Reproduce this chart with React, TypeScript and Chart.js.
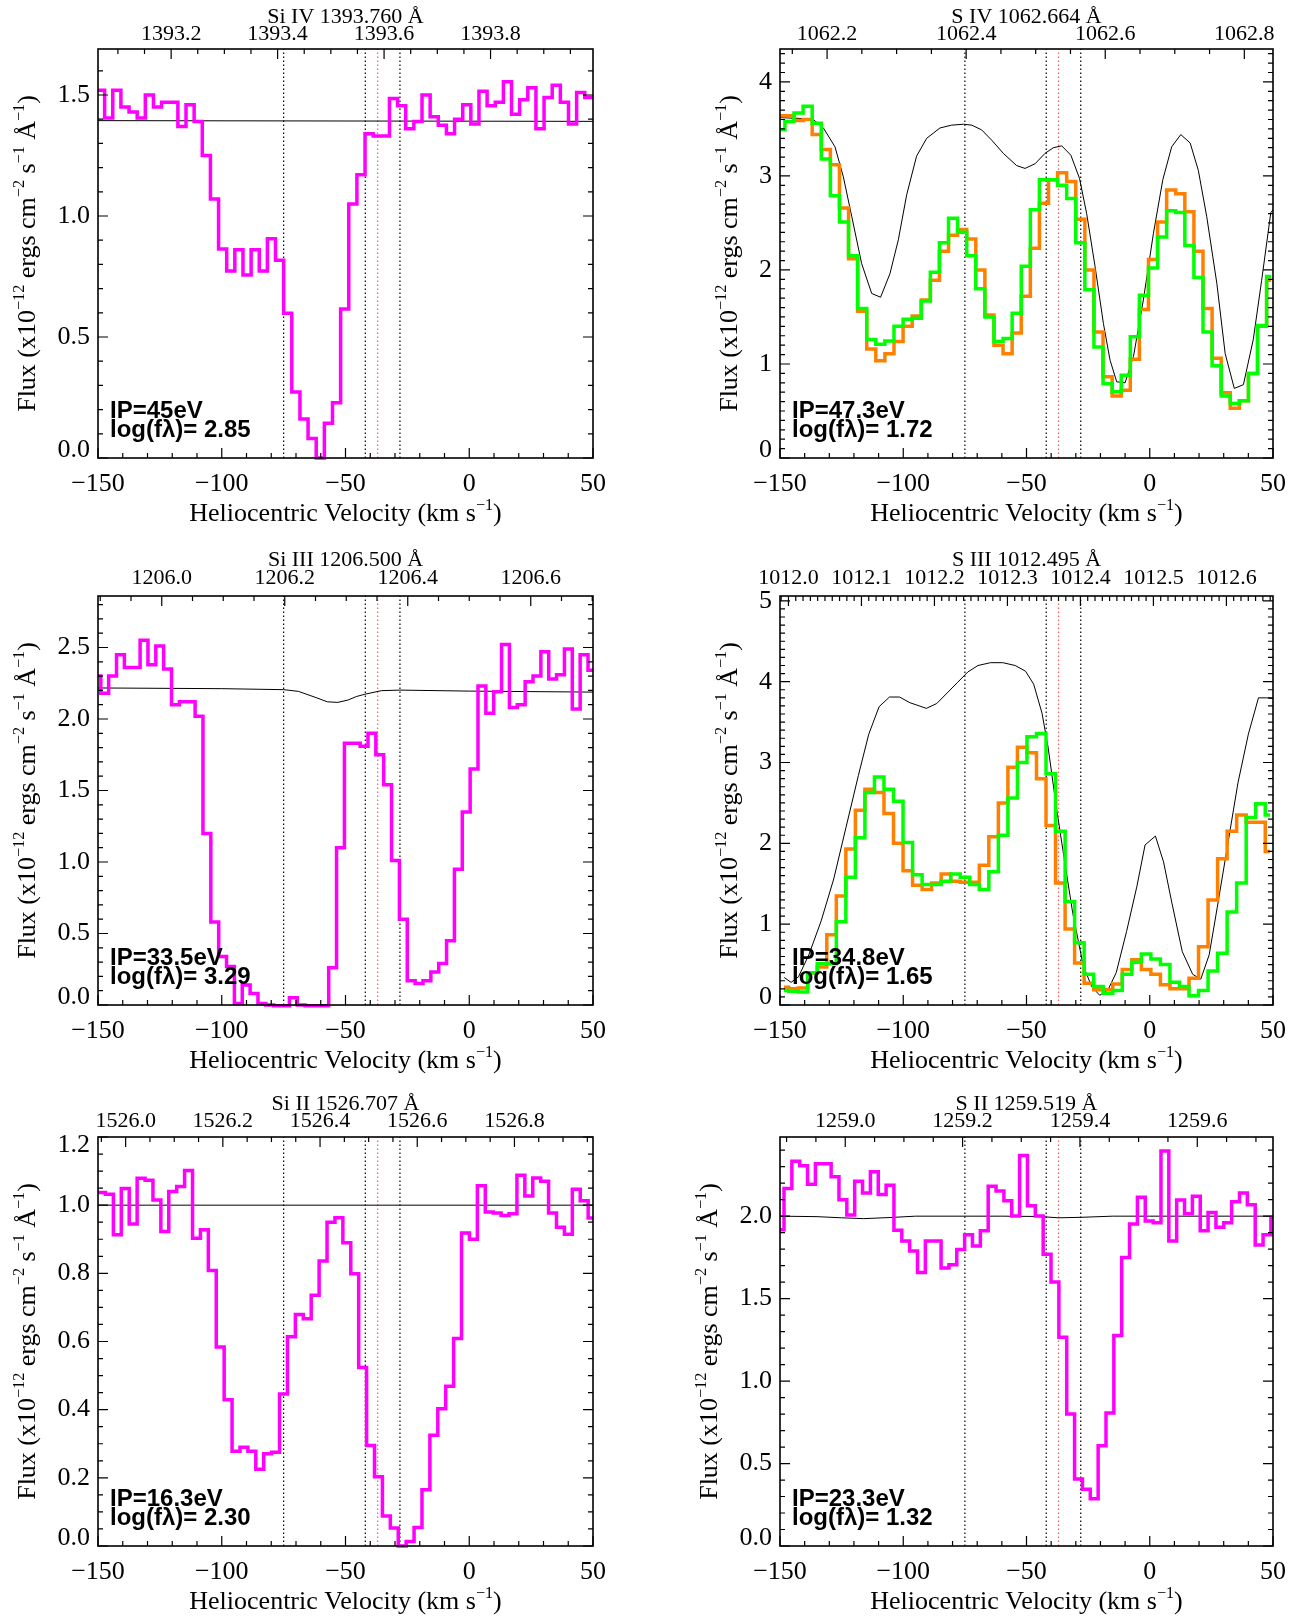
import React, { useEffect, useRef } from "react";
import { Chart, registerables } from "chart.js";

Chart.register(...registerables);

const LIGHT_SPEED = 299792.458;
const VEL_MIN = -150;
const VEL_MAX = 50;
const VEL_TICKS = [-150, -100, -50, 0, 50];
const VEL_MINOR = 10;
const MARK_BLACK = [-75, -42, -28];
const MARK_RED = [-37];

const MAGENTA = "#ff00ff";
const GREEN = "#00ff00";
const ORANGE = "#ff8000";
const FONT_SERIF = '"Liberation Serif", "Times New Roman", serif';
const FONT_SANS = '"Liberation Sans", Arial, sans-serif';

// ---------------- Si IV 1393.760 ----------------
const siIV_vel = [-152.25, -148.96, -145.68, -142.39, -139.10, -135.81, -132.52, -129.24, -125.95, -122.66, -119.37, -116.08, -112.80, -109.51, -106.22, -102.93, -99.64, -96.36, -93.07, -89.78, -86.49, -83.20, -79.92, -76.63, -73.34, -70.05, -66.76, -63.48, -60.19, -56.90, -53.61, -50.32, -47.04, -43.75, -40.46, -37.17, -33.88, -30.60, -27.31, -24.02, -20.73, -17.44, -14.16, -10.87, -7.58, -4.29, -1.00, 2.28, 5.57, 8.86, 12.15, 15.44, 18.72, 22.01, 25.30, 28.59, 31.88, 35.16, 38.45, 41.74, 45.03, 48.32, 51.61];
const siIV_flux = [1.52, 1.52, 1.405, 1.52, 1.45, 1.43, 1.405, 1.50, 1.45, 1.47, 1.47, 1.37, 1.46, 1.39, 1.25, 1.07, 0.864, 0.773, 0.86, 0.756, 0.86, 0.773, 0.906, 0.817, 0.598, 0.273, 0.161, 0.081, 0.0, 0.144, 0.228, 0.616, 1.05, 1.17, 1.34, 1.33, 1.33, 1.485, 1.455, 1.36, 1.39, 1.50, 1.41, 1.375, 1.34, 1.40, 1.46, 1.38, 1.515, 1.455, 1.47, 1.555, 1.42, 1.48, 1.53, 1.36, 1.49, 1.54, 1.47, 1.38, 1.51, 1.49, 1.49];
const siIV_contVel = [-150, 50];
const siIV_contFlux = [1.394, 1.391];
const siIV_waveTicks = [1393.2, 1393.4, 1393.6, 1393.8];
const siIV_yTicks = [0, 0.5, 1.0, 1.5];

// ---------------- S IV 1062.664 ----------------
const sIV_vel = [-149.84, -146.16, -142.47, -138.78, -135.10, -131.41, -127.72, -124.03, -120.35, -116.66, -112.97, -109.29, -105.60, -101.91, -98.22, -94.54, -90.85, -87.16, -83.48, -79.79, -76.10, -72.41, -68.73, -65.04, -61.35, -57.67, -53.98, -50.29, -46.60, -42.92, -39.23, -35.54, -31.86, -28.17, -24.48, -20.79, -17.11, -13.42, -9.73, -6.05, -2.36, 1.33, 5.02, 8.70, 12.39, 16.08, 19.76, 23.45, 27.14, 30.83, 34.51, 38.20, 41.89, 45.57, 49.26];
const sIV_green = [3.49, 3.58, 3.67, 3.74, 3.56, 3.18, 2.79, 2.51, 2.15, 1.59, 1.26, 1.21, 1.245, 1.40, 1.475, 1.486, 1.67, 1.975, 2.29, 2.55, 2.40, 2.15, 1.80, 1.50, 1.24, 1.27, 1.54, 2.04, 2.64, 2.96, 2.96, 2.90, 2.76, 2.29, 1.79, 1.18, 0.79, 0.705, 0.88, 1.29, 1.73, 2.02, 2.35, 2.63, 2.61, 2.26, 1.92, 1.34, 0.98, 0.66, 0.58, 0.61, 0.90, 1.41, 1.93];
const sIV_orange = [3.64, 3.64, 3.59, 3.60, 3.44, 3.28, 3.12, 2.66, 2.12, 1.56, 1.16, 1.035, 1.11, 1.24, 1.40, 1.51, 1.68, 1.89, 2.20, 2.37, 2.43, 2.33, 2.00, 1.52, 1.20, 1.11, 1.33, 1.72, 2.23, 2.71, 2.96, 3.035, 2.94, 2.54, 2.00, 1.34, 0.865, 0.66, 0.72, 1.05, 1.58, 2.11, 2.51, 2.85, 2.81, 2.62, 2.20, 1.59, 1.06, 0.695, 0.53, 0.61, 0.90, 1.40, 1.89];
const sIV_contVel = [-150, -140.5, -136.5, -132.4, -127.7, -124.3, -120.9, -116.9, -112.8, -109.2, -105.4, -102.0, -98.6, -94.6, -90.5, -85.1, -80.4, -75.6, -72.2, -68.2, -64.1, -59.4, -54.0, -50.6, -46.5, -42.5, -39.1, -35.7, -32.0, -28.5, -25.6, -22.2, -18.8, -16.1, -13.4, -10.0, -6.6, -2.6, 1.5, 5.3, 8.9, 12.6, 16.4, 19.7, 23.1, 27.2, 30.6, 34.3, 38.0, 42.0, 45.4, 49.1, 50];
const sIV_contFlux = [3.62, 3.61, 3.60, 3.51, 3.31, 2.99, 2.57, 2.07, 1.75, 1.71, 1.96, 2.32, 2.80, 3.21, 3.40, 3.51, 3.54, 3.55, 3.54, 3.49, 3.38, 3.24, 3.11, 3.08, 3.13, 3.24, 3.30, 3.32, 3.22, 2.975, 2.60, 2.04, 1.43, 1.04, 0.81, 0.80, 1.08, 1.68, 2.39, 2.96, 3.31, 3.44, 3.35, 3.06, 2.57, 1.86, 1.11, 0.74, 0.78, 1.26, 1.89, 2.61, 2.64];
const sIV_waveTicks = [1062.2, 1062.4, 1062.6, 1062.8];
const sIV_yTicks = [0, 1, 2, 3, 4];

// ---------------- Si III 1206.500 ----------------
const siIII_vel = [-150.45, -147.28, -144.10, -140.93, -137.75, -134.58, -131.40, -128.23, -125.05, -121.88, -118.70, -115.53, -112.35, -109.18, -106.00, -102.83, -99.65, -96.48, -93.30, -90.13, -86.95, -83.78, -80.60, -77.43, -74.25, -71.08, -67.90, -64.73, -61.55, -58.38, -55.20, -52.03, -48.85, -45.68, -42.50, -39.33, -36.15, -32.98, -29.80, -26.63, -23.45, -20.28, -17.10, -13.93, -10.75, -7.58, -4.40, -1.23, 1.95, 5.12, 8.30, 11.47, 14.65, 17.82, 21.00, 24.17, 27.35, 30.52, 33.70, 36.87, 40.05, 43.22, 46.40, 49.57, 52.75];
const siIII_flux = [2.30, 2.18, 2.30, 2.45, 2.36, 2.36, 2.55, 2.38, 2.51, 2.35, 2.10, 2.12, 2.12, 2.02, 1.20, 0.58, 0.34, 0.27, 0.01, 0.14, 0.08, 0.01, 0.0, -0.005, -0.005, 0.05, 0.0, -0.005, -0.005, -0.005, 0.26, 1.10, 1.83, 1.83, 1.81, 1.90, 1.75, 1.54, 1.01, 0.60, 0.17, 0.15, 0.17, 0.23, 0.29, 0.45, 0.95, 1.35, 1.65, 2.23, 2.04, 2.19, 2.52, 2.08, 2.10, 2.26, 2.30, 2.47, 2.28, 2.31, 2.49, 2.07, 2.45, 2.34, 2.34];
const siIII_contVel = [-150, -100, -75, -69, -62.3, -57.3, -53.1, -48.9, -45.6, -42.2, -35.5, -28, 0, 50];
const siIII_contFlux = [2.217, 2.212, 2.205, 2.193, 2.152, 2.12, 2.116, 2.133, 2.157, 2.173, 2.198, 2.202, 2.195, 2.188];
const siIII_waveTicks = [1206.0, 1206.2, 1206.4, 1206.6];
const siIII_yTicks = [0, 0.5, 1.0, 1.5, 2.0, 2.5];

// ---------------- S III 1012.495 ----------------
const sIII_vel = [-148.42, -144.55, -140.68, -136.82, -132.95, -129.08, -125.22, -121.35, -117.48, -113.62, -109.75, -105.88, -102.02, -98.15, -94.28, -90.41, -86.55, -82.68, -78.81, -74.95, -71.08, -67.21, -63.35, -59.48, -55.61, -51.75, -47.88, -44.01, -40.15, -36.28, -32.41, -28.55, -24.68, -20.81, -16.95, -13.08, -9.21, -5.34, -1.48, 2.39, 6.26, 10.12, 13.99, 17.86, 21.72, 25.59, 29.46, 33.32, 37.19, 41.06, 44.92, 48.79];
const sIII_green = [0.18, 0.17, 0.16, 0.40, 0.51, 0.51, 1.03, 1.58, 2.07, 2.63, 2.82, 2.67, 2.52, 2.01, 1.61, 1.49, 1.49, 1.53, 1.62, 1.58, 1.49, 1.43, 1.65, 2.10, 2.56, 3.00, 3.32, 3.36, 2.86, 2.15, 1.28, 0.77, 0.38, 0.23, 0.145, 0.18, 0.38, 0.53, 0.63, 0.57, 0.50, 0.28, 0.23, 0.115, 0.18, 0.42, 0.64, 1.15, 1.51, 2.32, 2.49, 2.35];
const sIII_orange = [0.22, 0.20, 0.21, 0.40, 0.47, 0.87, 1.35, 1.93, 2.41, 2.67, 2.63, 2.37, 2.00, 1.66, 1.48, 1.43, 1.51, 1.62, 1.53, 1.52, 1.52, 1.73, 2.08, 2.50, 2.94, 3.19, 3.12, 2.80, 2.22, 1.51, 0.94, 0.52, 0.27, 0.19, 0.19, 0.26, 0.44, 0.56, 0.44, 0.38, 0.25, 0.20, 0.20, 0.33, 0.72, 1.30, 1.81, 2.15, 2.35, 2.26, 2.26, 1.90];
const sIII_contVel = [-148.3, -145.5, -142.5, -138.3, -133.3, -128.2, -123.2, -118.2, -114.0, -109.8, -105.6, -101.5, -97.3, -90.6, -86.4, -82.2, -78.0, -73.8, -69.7, -64.6, -59.6, -54.6, -50.4, -47.1, -43.7, -41.2, -37.9, -34.5, -31.2, -27.0, -23.6, -20.3, -16.9, -13.6, -9.4, -5.2, -1.9, 2.3, 5.6, 9.0, 13.2, 17.4, 20.7, 24.1, 27.4, 31.6, 35.8, 40.0, 44.1, 47.5, 50];
const sIII_contFlux = [0.34, 0.28, 0.35, 0.62, 1.04, 1.56, 2.20, 2.84, 3.35, 3.69, 3.81, 3.81, 3.74, 3.67, 3.73, 3.86, 3.99, 4.12, 4.20, 4.235, 4.235, 4.20, 4.13, 3.97, 3.61, 3.18, 2.45, 1.77, 1.13, 0.49, 0.23, 0.12, 0.19, 0.40, 0.91, 1.47, 1.98, 2.09, 1.77, 1.26, 0.66, 0.38, 0.32, 0.62, 1.21, 1.98, 2.75, 3.35, 3.80, 3.80, 3.79];
const sIII_waveTicks = [1012.0, 1012.1, 1012.2, 1012.3, 1012.4, 1012.5, 1012.6];
const sIII_yTicks = [0, 1, 2, 3, 4, 5];

// ---------------- Si II 1526.707 ----------------
const siII_vel = [-151.78, -148.58, -145.38, -142.19, -138.99, -135.79, -132.59, -129.40, -126.20, -123.00, -119.81, -116.61, -113.41, -110.21, -107.02, -103.82, -100.62, -97.43, -94.23, -91.03, -87.84, -84.64, -81.44, -78.24, -75.05, -71.85, -68.65, -65.46, -62.26, -59.06, -55.86, -52.67, -49.47, -46.27, -43.08, -39.88, -36.68, -33.49, -30.29, -27.09, -23.89, -20.70, -17.50, -14.30, -11.11, -7.91, -4.71, -1.52, 1.68, 4.88, 8.08, 11.27, 14.47, 17.67, 20.86, 24.06, 27.26, 30.45, 33.65, 36.85, 40.05, 43.24, 46.44, 49.64, 52.83];
const siII_flux = [1.037, 1.037, 1.032, 0.913, 1.049, 0.945, 1.079, 1.073, 1.015, 0.923, 1.040, 1.055, 1.102, 0.903, 0.928, 0.808, 0.584, 0.429, 0.278, 0.290, 0.278, 0.225, 0.271, 0.275, 0.446, 0.614, 0.679, 0.667, 0.736, 0.836, 0.950, 0.963, 0.890, 0.799, 0.524, 0.295, 0.203, 0.088, 0.053, 0.0, 0.013, 0.054, 0.165, 0.325, 0.403, 0.469, 0.609, 0.918, 0.900, 1.057, 0.980, 0.977, 0.970, 0.975, 1.088, 1.027, 1.080, 1.070, 0.977, 0.935, 0.915, 1.047, 1.013, 0.962, 0.962];
const siII_contVel = [-150, 50];
const siII_contFlux = [1.0, 1.0];
const siII_waveTicks = [1526.0, 1526.2, 1526.4, 1526.6, 1526.8];
const siII_yTicks = [0, 0.2, 0.4, 0.6, 0.8, 1.0, 1.2];

// ---------------- S II 1259.519 ----------------
const sII_vel = [-149.97, -146.78, -143.60, -140.41, -137.23, -134.04, -130.85, -127.67, -124.48, -121.30, -118.11, -114.92, -111.74, -108.55, -105.37, -102.18, -98.99, -95.81, -92.62, -89.44, -86.25, -83.06, -79.88, -76.69, -73.51, -70.32, -67.13, -63.95, -60.76, -57.58, -54.39, -51.20, -48.02, -44.83, -41.65, -38.46, -35.27, -32.09, -28.90, -25.72, -22.53, -19.34, -16.16, -12.97, -9.79, -6.60, -3.41, -0.23, 2.96, 6.14, 9.33, 12.52, 15.70, 18.89, 22.07, 25.26, 28.45, 31.63, 34.82, 38.00, 41.19, 44.38, 47.56, 50.75];
const sII_flux = [1.918, 2.167, 2.333, 2.306, 2.194, 2.318, 2.318, 2.239, 2.100, 2.007, 2.212, 2.140, 2.270, 2.131, 2.187, 1.914, 1.850, 1.788, 1.659, 1.850, 1.850, 1.686, 1.705, 1.798, 1.887, 1.819, 1.912, 2.181, 2.152, 2.094, 2.001, 2.368, 2.063, 2.001, 1.769, 1.601, 1.266, 0.800, 0.406, 0.344, 0.286, 0.608, 0.807, 1.276, 1.749, 1.953, 2.115, 1.970, 1.960, 2.395, 1.850, 2.098, 2.015, 2.121, 1.912, 2.022, 1.933, 1.960, 2.088, 2.140, 2.069, 1.825, 1.887, 1.991];
const sII_contVel = [-150, -135, -125, -116, -105, -95, -60, -45, -37, -28, -15, 0, 50];
const sII_contFlux = [2.0, 1.997, 1.99, 1.985, 1.992, 2.0, 2.0, 1.998, 1.99, 1.993, 2.0, 2.0, 2.0];
const sII_waveTicks = [1259.0, 1259.2, 1259.4, 1259.6];
const sII_yTicks = [0, 0.5, 1.0, 1.5, 2.0];

// ---------------- layout ----------------
const PLOT_LEFT = [98, 780];
const PLOT_W = [495, 493];
const PLOT_TOP = [49, 596, 1137];
const PLOT_H = 409;
const PAD = { left: 98, top: 49, right: 24, bottom: 72 };
const ROW_TITLE_OFF = [26.5, 30.5, 27];
const ROW_WAVE_PAD = [1.8, 5.0, 2.4];

type Series = { vel: number[]; flux: number[]; color: string };
type PanelDef = {
  col: number;
  row: number;
  title: string;
  lam0: number;
  waveTicks: number[];
  waveMinor: number;
  yMax: number;
  yTicks: number[];
  yMinor: number;
  yDec: number;
  ip: string;
  logf: string;
  hist: Series[];
  contVel: number[];
  contFlux: number[];
};

const PANELS: PanelDef[] = [
  { col: 0, row: 0, title: "Si IV 1393.760 Å", lam0: 1393.76, waveTicks: siIV_waveTicks, waveMinor: 0.05, yMax: 1.69, yTicks: siIV_yTicks, yMinor: 0.1, yDec: 1, ip: "IP=45eV", logf: "log(fλ)= 2.85", hist: [{ vel: siIV_vel, flux: siIV_flux, color: MAGENTA }], contVel: siIV_contVel, contFlux: siIV_contFlux },
  { col: 1, row: 0, title: "S IV 1062.664 Å", lam0: 1062.664, waveTicks: sIV_waveTicks, waveMinor: 0.05, yMax: 4.35, yTicks: sIV_yTicks, yMinor: 0.1, yDec: 0, ip: "IP=47.3eV", logf: "log(fλ)= 1.72", hist: [{ vel: sIV_vel, flux: sIV_green, color: GREEN }, { vel: sIV_vel, flux: sIV_orange, color: ORANGE }], contVel: sIV_contVel, contFlux: sIV_contFlux },
  { col: 0, row: 1, title: "Si III 1206.500 Å", lam0: 1206.5, waveTicks: siIII_waveTicks, waveMinor: 0.05, yMax: 2.86, yTicks: siIII_yTicks, yMinor: 0.1, yDec: 1, ip: "IP=33.5eV", logf: "log(fλ)= 3.29", hist: [{ vel: siIII_vel, flux: siIII_flux, color: MAGENTA }], contVel: siIII_contVel, contFlux: siIII_contFlux },
  { col: 1, row: 1, title: "S III 1012.495 Å", lam0: 1012.495, waveTicks: sIII_waveTicks, waveMinor: 0.01, yMax: 5.06, yTicks: sIII_yTicks, yMinor: 0.1, yDec: 0, ip: "IP=34.8eV", logf: "log(fλ)= 1.65", hist: [{ vel: sIII_vel, flux: sIII_green, color: GREEN }, { vel: sIII_vel, flux: sIII_orange, color: ORANGE }], contVel: sIII_contVel, contFlux: sIII_contFlux },
  { col: 0, row: 2, title: "Si II 1526.707 Å", lam0: 1526.707, waveTicks: siII_waveTicks, waveMinor: 0.05, yMax: 1.2, yTicks: siII_yTicks, yMinor: 0.05, yDec: 1, ip: "IP=16.3eV", logf: "log(fλ)= 2.30", hist: [{ vel: siII_vel, flux: siII_flux, color: MAGENTA }], contVel: siII_contVel, contFlux: siII_contFlux },
  { col: 1, row: 2, title: "S II 1259.519 Å", lam0: 1259.519, waveTicks: sII_waveTicks, waveMinor: 0.05, yMax: 2.48, yTicks: sII_yTicks, yMinor: 0.1, yDec: 1, ip: "IP=23.3eV", logf: "log(fλ)= 1.32", hist: [{ vel: sII_vel, flux: sII_flux, color: MAGENTA }], contVel: sII_contVel, contFlux: sII_contFlux },
];

type Part = { t: string; sup?: boolean };
const X_TITLE: Part[] = [{ t: "Heliocentric Velocity (km s" }, { t: "−1", sup: true }, { t: ")" }];
const Y_TITLE: Part[] = [
  { t: "Flux (x10" }, { t: "−12", sup: true }, { t: " ergs cm" }, { t: "−2", sup: true },
  { t: " s" }, { t: "−1", sup: true }, { t: " Å" }, { t: "−1", sup: true }, { t: ")" },
];

function richWidth(ctx: CanvasRenderingContext2D, parts: Part[], size: number) {
  let w = 0;
  for (const p of parts) {
    ctx.font = `${p.sup ? size * 0.62 : size}px ${FONT_SERIF}`;
    w += ctx.measureText(p.t).width;
  }
  return w;
}
function drawRich(ctx: CanvasRenderingContext2D, parts: Part[], x: number, y: number, size: number) {
  let cx = x;
  ctx.textAlign = "left";
  ctx.textBaseline = "alphabetic";
  for (const p of parts) {
    ctx.font = `${p.sup ? size * 0.62 : size}px ${FONT_SERIF}`;
    ctx.fillText(p.t, cx, p.sup ? y - size * 0.42 : y);
    cx += ctx.measureText(p.t).width;
  }
}

const near = (list: number[], v: number) => list.some((t) => Math.abs(t - v) < 1e-6);

function makePlugin(p: PanelDef) {
  return {
    id: "idlFrame",
    afterDraw(chart: any) {
      const { ctx, chartArea: a } = chart;
      const xs = chart.scales.x;
      const ys = chart.scales.y;
      const ws = chart.scales.w;
      ctx.save();
      ctx.strokeStyle = "#000";
      ctx.lineWidth = 1.2;
      ctx.beginPath();
      for (let n = Math.ceil(VEL_MIN / VEL_MINOR); n <= Math.floor(VEL_MAX / VEL_MINOR); n++) {
        const v = n * VEL_MINOR;
        const px = xs.getPixelForValue(v);
        const len = near(VEL_TICKS, v) ? 10 : 5;
        ctx.moveTo(px, a.bottom);
        ctx.lineTo(px, a.bottom - len);
      }
      for (let n = 0; n * p.yMinor <= p.yMax + 1e-9; n++) {
        const v = n * p.yMinor;
        const py = ys.getPixelForValue(v);
        const len = near(p.yTicks, v) ? 10 : 5;
        ctx.moveTo(a.left, py);
        ctx.lineTo(a.left + len, py);
        ctx.moveTo(a.right, py);
        ctx.lineTo(a.right - len, py);
      }
      for (let n = Math.ceil(ws.min / p.waveMinor - 1e-6); n * p.waveMinor <= ws.max + 1e-9; n++) {
        const v = n * p.waveMinor;
        const px = ws.getPixelForValue(v);
        const len = near(p.waveTicks, v) ? 10 : 5;
        ctx.moveTo(px, a.top);
        ctx.lineTo(px, a.top + len);
      }
      ctx.stroke();
      ctx.lineWidth = 1.6;
      ctx.strokeRect(a.left, a.top, a.right - a.left, a.bottom - a.top);

      ctx.fillStyle = "#000";
      ctx.font = `22px ${FONT_SERIF}`;
      ctx.textAlign = "center";
      ctx.textBaseline = "alphabetic";
      ctx.fillText(p.title, (a.left + a.right) / 2, a.top - ROW_TITLE_OFF[p.row]);
      const xw = richWidth(ctx, X_TITLE, 26);
      drawRich(ctx, X_TITLE, (a.left + a.right) / 2 - xw / 2, a.bottom + 63, 26);
      const off = p.yDec > 0 ? 72 : 52;
      const yw = richWidth(ctx, Y_TITLE, 26);
      ctx.save();
      ctx.translate(a.left - off + 8.6, (a.top + a.bottom) / 2);
      ctx.rotate(-Math.PI / 2);
      drawRich(ctx, Y_TITLE, -yw / 2, 0, 26);
      ctx.restore();
      ctx.font = `bold 24px ${FONT_SANS}`;
      ctx.textAlign = "left";
      ctx.fillText(p.ip, a.left + 12, a.bottom - 40);
      ctx.fillText(p.logf, a.left + 12, a.bottom - 21);
      ctx.restore();
    },
  };
}

const toXY = (xs: number[], ys: number[]) => xs.map((x, i) => ({ x, y: ys[i] }));
const fmtVel = (v: number) => (v < 0 ? "−" + Math.abs(v) : String(v));

function buildConfig(p: PanelDef) {
  const wMin = p.lam0 * (1 + VEL_MIN / LIGHT_SPEED);
  const wMax = p.lam0 * (1 + VEL_MAX / LIGHT_SPEED);
  const clip = { left: 0, right: 0, top: 3, bottom: 3 };
  const datasets: any[] = [];
  p.hist.forEach((s, i) => {
    datasets.push({
      data: toXY(s.vel, s.flux),
      borderColor: s.color,
      borderWidth: 3.5,
      stepped: "middle",
      pointRadius: 0,
      fill: false,
      borderJoinStyle: "miter",
      borderCapStyle: "butt",
      clip,
      order: i,
    });
  });
  datasets.push({
    data: toXY(p.contVel, p.contFlux),
    borderColor: "#000",
    borderWidth: 1,
    pointRadius: 0,
    fill: false,
    tension: 0,
    clip,
    order: 5,
  });
  MARK_BLACK.forEach((v) =>
    datasets.push({ data: [{ x: v, y: 0 }, { x: v, y: p.yMax }], borderColor: "#000", borderWidth: 1.2, borderDash: [1.5, 2.5], pointRadius: 0, fill: false, order: 6 })
  );
  MARK_RED.forEach((v) =>
    datasets.push({ data: [{ x: v, y: 0 }, { x: v, y: p.yMax }], borderColor: "#ff5a5a", borderWidth: 1.2, borderDash: [1.5, 2.5], pointRadius: 0, fill: false, order: 6 })
  );

  const tickFont = { family: FONT_SERIF, size: 26, lineHeight: 1.2 };
  const atBottom = (v: number) => Math.abs(v) < 1e-9;
  const atTop = (v: number) => Math.abs(v - p.yMax) < 0.02;
  return {
    type: "line",
    data: { datasets },
    plugins: [makePlugin(p)],
    options: {
      animation: false,
      responsive: false,
      devicePixelRatio: 1,
      events: [],
      layout: { padding: { left: 0, top: 0, right: PAD.right, bottom: 0 } },
      plugins: { legend: { display: false }, tooltip: { enabled: false }, title: { display: false } },
      scales: {
        x: {
          type: "linear",
          position: "bottom",
          min: VEL_MIN,
          max: VEL_MAX,
          grid: { display: false, drawTicks: false },
          border: { display: false },
          afterBuildTicks: (s: any) => { s.ticks = VEL_TICKS.map((value) => ({ value })); },
          afterFit: (s: any) => { s.height = PAD.bottom; s.paddingLeft = 0; s.paddingRight = 0; },
          ticks: { autoSkip: false, maxRotation: 0, minRotation: 0, padding: 10.4, color: "#000", font: tickFont, callback: (v: any) => fmtVel(Number(v)) },
        },
        w: {
          type: "linear",
          axis: "x",
          position: "top",
          min: wMin,
          max: wMax,
          grid: { display: false, drawTicks: false },
          border: { display: false },
          afterBuildTicks: (s: any) => { s.ticks = p.waveTicks.map((value) => ({ value })); },
          afterFit: (s: any) => { s.height = PAD.top; s.paddingLeft = 0; s.paddingRight = 0; },
          ticks: { autoSkip: false, maxRotation: 0, minRotation: 0, padding: ROW_WAVE_PAD[p.row], color: "#000", font: { family: FONT_SERIF, size: 22, lineHeight: 1.2 }, callback: (v: any) => Number(v).toFixed(1) },
        },
        y: {
          type: "linear",
          position: "left",
          min: 0,
          max: p.yMax,
          grid: { display: false, drawTicks: false },
          border: { display: false },
          afterBuildTicks: (s: any) => { s.ticks = p.yTicks.map((value) => ({ value })); },
          afterFit: (s: any) => { s.width = PAD.left; s.paddingTop = 0; s.paddingBottom = 0; },
          ticks: {
            autoSkip: false,
            padding: 8,
            color: "#000",
            font: (c: any) => {
              const v = c && c.tick ? c.tick.value : NaN;
              if (atBottom(v) || atTop(v)) return { family: FONT_SERIF, size: 26, lineHeight: "16px" };
              return tickFont;
            },
            callback: (v: any) => {
              const n = Number(v);
              const s = n.toFixed(p.yDec);
              if (atBottom(n)) return [s, ""];
              if (atTop(n)) return ["", s];
              return s;
            },
          },
        },
      },
    },
  };
}

function Panel({ p }: { p: PanelDef }) {
  const ref = useRef<HTMLCanvasElement | null>(null);
  useEffect(() => {
    if (!ref.current) return;
    const chart = new Chart(ref.current, buildConfig(p) as any);
    return () => chart.destroy();
  }, [p]);
  const left = PLOT_LEFT[p.col] - PAD.left;
  const top = PLOT_TOP[p.row] - PAD.top;
  const w = PAD.left + PLOT_W[p.col] + PAD.right;
  const h = PAD.top + PLOT_H + PAD.bottom;
  return (
    <canvas
      ref={ref}
      width={w}
      height={h}
      style={{ position: "absolute", left, top, width: w, height: h }}
    />
  );
}

export default function App() {
  return (
    <div style={{ position: "absolute", left: 0, top: 0, width: 1299, height: 1619, background: "#fff", overflow: "hidden" }}>
      {PANELS.map((p, i) => (
        <Panel key={i} p={p} />
      ))}
    </div>
  );
}
